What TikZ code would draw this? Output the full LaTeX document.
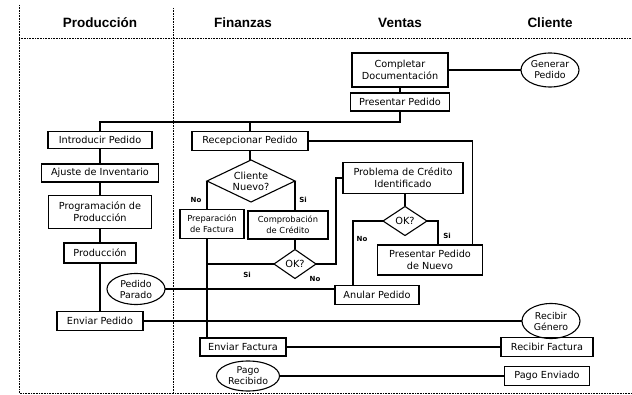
\documentclass[tikz,border=0pt]{standalone}
\usepackage{fontspec}
\setmainfont{DejaVu Sans}
\newfontfamily\headfont{Liberation Sans}
\usetikzlibrary{shapes.geometric}
\begin{document}
\begin{tikzpicture}[x=1pt,y=-1pt,
  every node/.style={inner sep=0pt,outer sep=0pt},
  box/.style={draw,line width=1.3pt,align=center,font=\fontsize{9.7}{11.8}\selectfont},
  smallbox/.style={box,font=\fontsize{8.3}{10.8}\selectfont},
  oval/.style={ellipse,draw,line width=1.1pt,align=center,inner xsep=-12pt,inner ysep=-7pt,font=\fontsize{9.4}{11}\selectfont},
  decision/.style={diamond,draw,line width=1.1pt,align=center,inner sep=-7pt,font=\fontsize{9.8}{11.2}\selectfont},
  head/.style={font=\fontsize{13.5}{15}\selectfont\headfont\bfseries},
  lbl/.style={font=\fontsize{7}{8}\selectfont\bfseries},
  link/.style={line width=1.1pt},
  lane/.style={dash pattern=on 0.8pt off 0.8pt,line width=0.6pt}]
\useasboundingbox (0,0) rectangle (632,395);

% swimlane frame
\draw[lane] (19,5) -- (19,393) -- (632,393);
\draw[lane] (19,38) -- (632,38);
\draw[lane] (173,8) -- (173,393);

% lane headings
\node[head] (hprod) at (100,23) {Producción};
\node[head] (hfin) at (243,23) {Finanzas};
\node[head] (hven) at (400,23) {Ventas};
\node[head] (hcli) at (550,23) {Cliente};

% process steps
\node[box,minimum width=96pt,minimum height=34pt] (compl) at (400,70) {Completar\\Documentación};
\node[oval,minimum width=58pt,minimum height=34pt] (genped) at (550,70) {Generar\\Pedido};
\node[box,minimum width=99pt,minimum height=18pt] (present) at (400,102) {Presentar Pedido};
\node[box,minimum width=104pt,minimum height=17pt] (intro) at (100,140) {Introducir Pedido};
\node[box,minimum width=117pt,minimum height=18pt] (ajuste) at (100,173) {Ajuste de Inventario};
\node[box,minimum width=103pt,minimum height=33pt] (prog) at (100,212) {Programación de\\Producción};
\node[box,minimum width=72pt,minimum height=20pt] (prod) at (100,253) {Producción};
\node[oval,minimum width=58pt,minimum height=31pt] (parado) at (136,289) {Pedido\\Parado};
\node[box,minimum width=86pt,minimum height=19pt] (envped) at (100,321) {Enviar Pedido};
\node[box,minimum width=116pt,minimum height=19pt] (recep) at (250,141) {Recepcionar Pedido};
\node[decision,minimum width=88pt,minimum height=42pt,aspect=2] (cnuevo) at (251,181) {Cliente\\Nuevo?};
\node[smallbox,minimum width=64pt,minimum height=29pt] (prep) at (212,224) {Preparación\\de Factura};
\node[smallbox,minimum width=80pt,minimum height=28pt] (comp) at (288,225) {Comprobación\\de Crédito};
\node[decision,minimum width=42pt,minimum height=29pt,aspect=1.45] (okuno) at (295,264) {OK?};
\node[box,minimum width=120pt,minimum height=31pt] (probl) at (403,178) {Problema de Crédito\\Identificado};
\node[decision,minimum width=44pt,minimum height=29pt,aspect=1.5] (okdos) at (405,221) {OK?};
\node[box,minimum width=105pt,minimum height=30pt] (presnuevo) at (430,260) {Presentar Pedido\\de Nuevo};
\node[box,minimum width=84pt,minimum height=19pt] (anular) at (377,295) {Anular Pedido};
\node[oval,minimum width=58pt,minimum height=35pt] (recgen) at (551,321) {Recibir\\Género};
\node[box,minimum width=86pt,minimum height=18pt] (envfact) at (243,347) {Enviar Factura};
\node[box,minimum width=92pt,minimum height=19pt] (recfact) at (547,347) {Recibir Factura};
\node[oval,minimum width=63pt,minimum height=30pt] (pagorec) at (248,376) {Pago\\Recibido};
\node[box,minimum width=85pt,minimum height=19pt] (pagoenv) at (547,376) {Pago Enviado};

% junction below Presentar Pedido
\coordinate (junc) at (400,122);

% connectors
\draw[link] (compl.east) -- (genped.west);
\draw[link] (compl.south) -- (present.north);
\draw[link] (present.south) -- (junc) -- (intro.north |- junc) -- (intro.north);
\draw[link] (recep.north) -- (recep.north |- junc);
\draw[link] (intro.south) -- (ajuste.north);
\draw[link] (ajuste.south) -- (prog.north);
\draw[link] (prog.south) -- (prod.north);
\draw[link] (prod.south) -- (prod.south |- envped.north);
\draw[link] (envped.east) -- (envped.east -| recgen.west);
\draw[link] (parado.east) -- (parado.east -| anular.west);
\draw[link] (recep.south) -- (recep.south |- cnuevo.north);
\draw[link] (recep.east) -| ([xshift=-10pt]presnuevo.north east);
\draw[link] (cnuevo.west) -- (cnuevo.west |- prep.north);
\draw[link] (cnuevo.east) -- (cnuevo.east |- comp.north);
\draw[link] (cnuevo.west |- prep.south) -- (cnuevo.west |- envfact.north);
\draw[link] (okuno.north |- comp.south) -- (okuno.north);
\draw[link] (okuno.west) -- (okuno.west -| cnuevo.west);
\draw[link] (okuno.east) -- ++(20,0) |- (probl.west);
\draw[link] (okdos.north |- probl.south) -- (okdos.north);
\draw[link] (okdos.west) -| ([xshift=-24pt]anular.north);
\draw[link] (okdos.east) -| ([xshift=8pt]presnuevo.north);
\draw[link] (envfact.east) -- (recfact.west);
\draw[link] (pagorec.east) -- (pagoenv.west);

% branch labels
\node[lbl] (lno1) at (196,200) {No};
\node[lbl] (lsi1) at (303,200) {Si};
\node[lbl] (lsi2) at (247,275) {Si};
\node[lbl] (lno2) at (315,279) {No};
\node[lbl] (lno3) at (362,239) {No};
\node[lbl] (lsi3) at (447,236) {Si};
\end{tikzpicture}
\end{document}
